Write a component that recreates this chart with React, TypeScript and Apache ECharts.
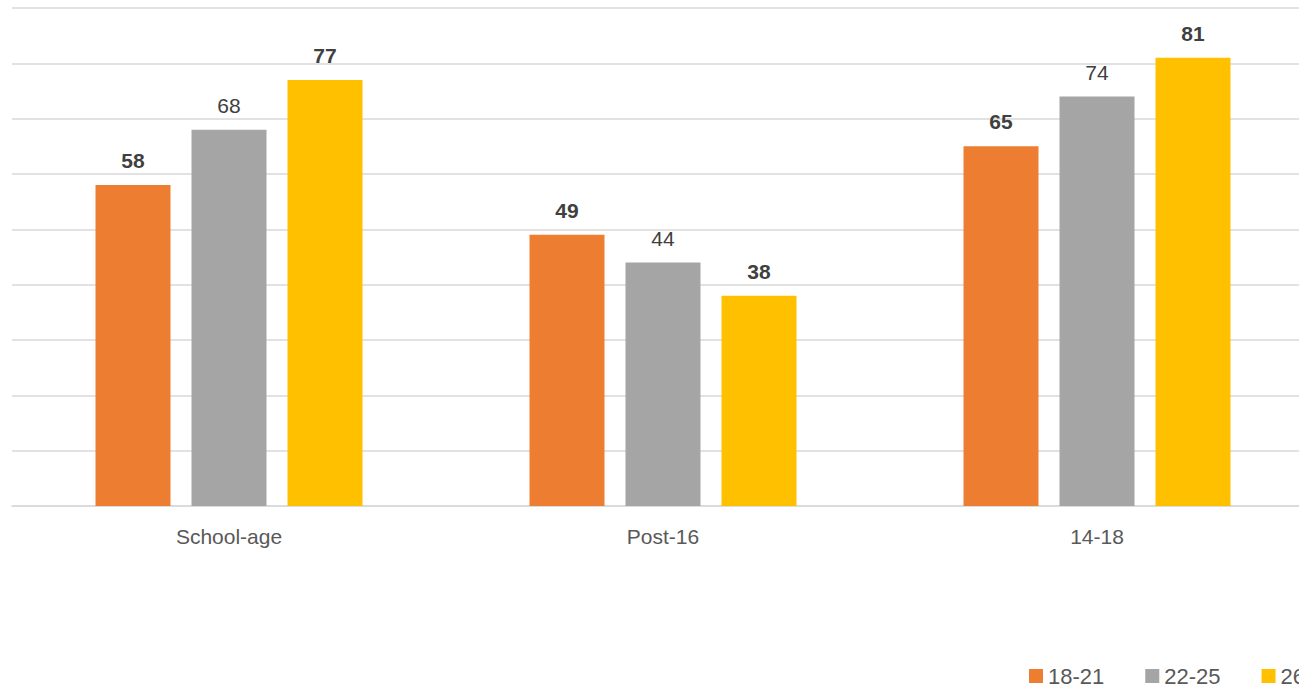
import React, { useEffect, useRef } from "react";
import * as echarts from "echarts";

const categories = ["School-age", "Post-16", "14-18"];
const seriesNames = ["18-21", "22-25", "26+"];
const values1821 = [58, 49, 65];
const values2225 = [68, 44, 74];
const values26 = [77, 38, 81];
const colors = ["#ED7D31", "#A5A5A5", "#FFC000"];
const boldLabels = [true, false, true];

export default function App() {
  const ref = useRef<HTMLDivElement>(null);
  useEffect(() => {
    if (!ref.current) return;
    const chart = echarts.init(ref.current, null, { renderer: "svg" });
    const font = "'Liberation Sans', Arial, sans-serif";
    const data = [values1821, values2225, values26];
    chart.setOption({
      animation: false,
      grid: { left: 12, top: 8, width: 1302, height: 498, containLabel: false },
      legend: {
        left: 1029,
        top: 661,
        padding: 0,
        itemWidth: 14,
        itemHeight: 14,
        itemGap: 41,
        icon: "rect",
        textStyle: { fontFamily: font, fontSize: 22, color: "#595959", lineHeight: 30 },
        data: seriesNames,
      },
      xAxis: {
        type: "category",
        data: categories,
        axisLine: { lineStyle: { color: "#D9D9D9", width: 1.5 } },
        axisTick: { show: false },
        axisLabel: { fontFamily: font, fontSize: 21, color: "#595959", margin: 20 },
      },
      yAxis: {
        type: "value",
        min: 0,
        max: 90,
        interval: 10,
        axisLine: { show: false },
        axisTick: { show: false },
        axisLabel: { show: false },
        splitLine: { lineStyle: { color: "#D9D9D9", width: 1.5 } },
      },
      series: seriesNames.map((name, i) => ({
        name,
        type: "bar",
        data: data[i],
        barWidth: 75,
        barGap: "28%",
        itemStyle: { color: colors[i] },
        label: {
          show: true,
          position: "top",
          distance: 14,
          fontFamily: font,
          fontSize: 21,
          fontWeight: boldLabels[i] ? "bold" : "normal",
          color: "#404040",
        },
      })),
    });
    return () => chart.dispose();
  }, []);
  return (
    <div style={{ position: "absolute", left: 0, top: 0, width: 1299, height: 690, overflow: "hidden", background: "#fff" }}>
      <div ref={ref} style={{ width: 1340, height: 690 }} />
    </div>
  );
}
